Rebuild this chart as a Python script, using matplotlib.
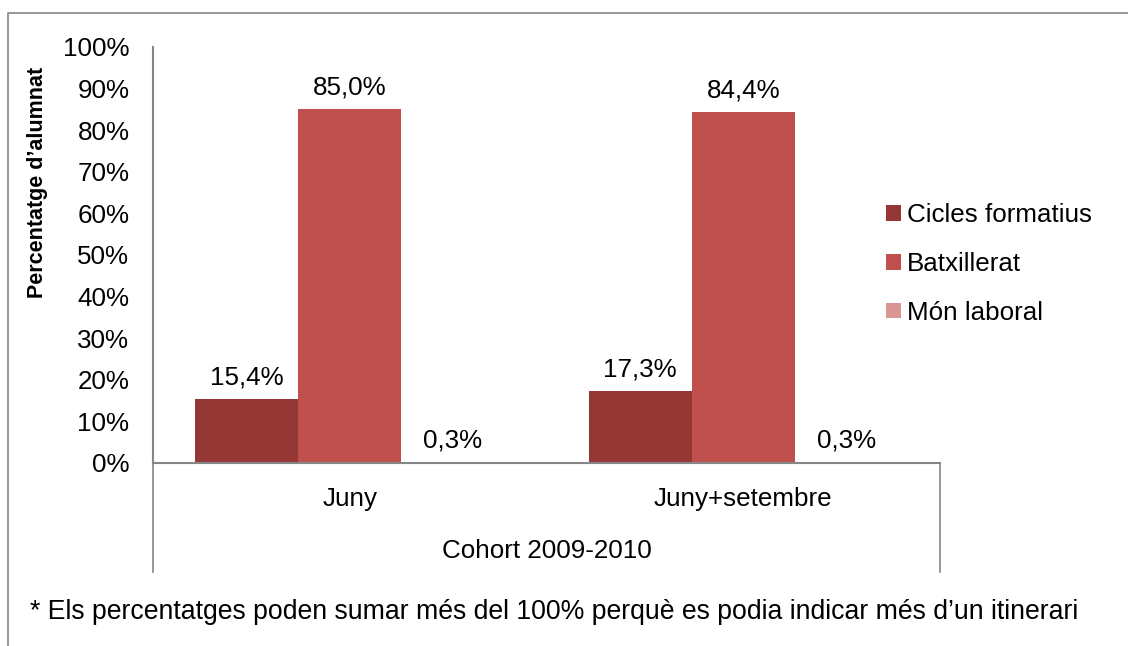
import matplotlib.pyplot as plt
from matplotlib.lines import Line2D
import numpy as np

plt.rcParams['font.family'] = ['Liberation Sans', 'DejaVu Sans']

# Data
categories = ['Juny', 'Juny+setembre']
series = ['Cicles formatius', 'Batxillerat', 'Món laboral']
cicles = [15.4, 17.3]
batx = [85.0, 84.4]
laboral = [0.3, 0.3]
colors = ['#953735', '#C0504D', '#D99694']
yticks = [0, 10, 20, 30, 40, 50, 60, 70, 80, 90, 100]

fs = 18.7

fig = plt.figure(figsize=(11.28, 6.46), dpi=100)
ax = fig.add_axes([153/1128, 1-463/646, 787/1128, 416/646])

x = np.arange(len(categories))
w = 0.262
for i, (vals, name) in enumerate(zip([cicles, batx, laboral], series)):
    bars = ax.bar(x + (i - 1) * w, vals, w, color=colors[i], label=name)
    for b, v in zip(bars, vals):
        ax.annotate(('%.1f%%' % v).replace('.', ','),
                    (b.get_x() + b.get_width() / 2, v),
                    xytext=(0, 7), textcoords='offset points',
                    ha='center', va='bottom', fontsize=fs)

ax.set_xlim(-0.5, 1.5)
ax.set_ylim(0, 100)
ax.set_yticks(yticks)
ax.set_yticklabels(['%d%%' % t for t in yticks], fontsize=fs)
ax.tick_params(axis='y', length=0, pad=17)
ax.set_xticks(x)
ax.set_xticklabels(categories, fontsize=fs)
ax.tick_params(axis='x', length=0, pad=17.5)
ax.set_xlabel('Cohort 2009-2010', fontsize=fs, labelpad=20)

for s in ['top', 'right']:
    ax.spines[s].set_visible(False)
for s in ['left', 'bottom']:
    ax.spines[s].set_color('#868686')
    ax.spines[s].set_linewidth(1.5)

fig.text(38/1128, 1-182/646, 'Percentatge d\u2019alumnat', rotation=90,
         fontsize=15.5, fontweight='bold', ha='center', va='center')

# category axis separators below plot
for xp in [153, 940]:
    fig.add_artist(Line2D([xp/1128, xp/1128], [1-463/646, 1-572/646],
                          color='#868686', lw=1.2))

# outer frame
fig.add_artist(Line2D([8/1128, 8/1128, 1], [0, 1-13/646, 1-13/646],
                      color='#868686', lw=1.2))

fig.legend(loc='center left', bbox_to_anchor=(863/1128, 1-264/646),
           frameon=False, fontsize=fs, handlelength=0.55, handleheight=0.55,
           handletextpad=0.25, labelspacing=0.95)

fig.text(30/1128, 1-612/646,
         '* Els percentatges poden sumar més del 100% perquè es podia indicar més d\u2019un itinerari',
         fontsize=19.2, ha='left', va='center')

plt.savefig('out.png', dpi=100)
